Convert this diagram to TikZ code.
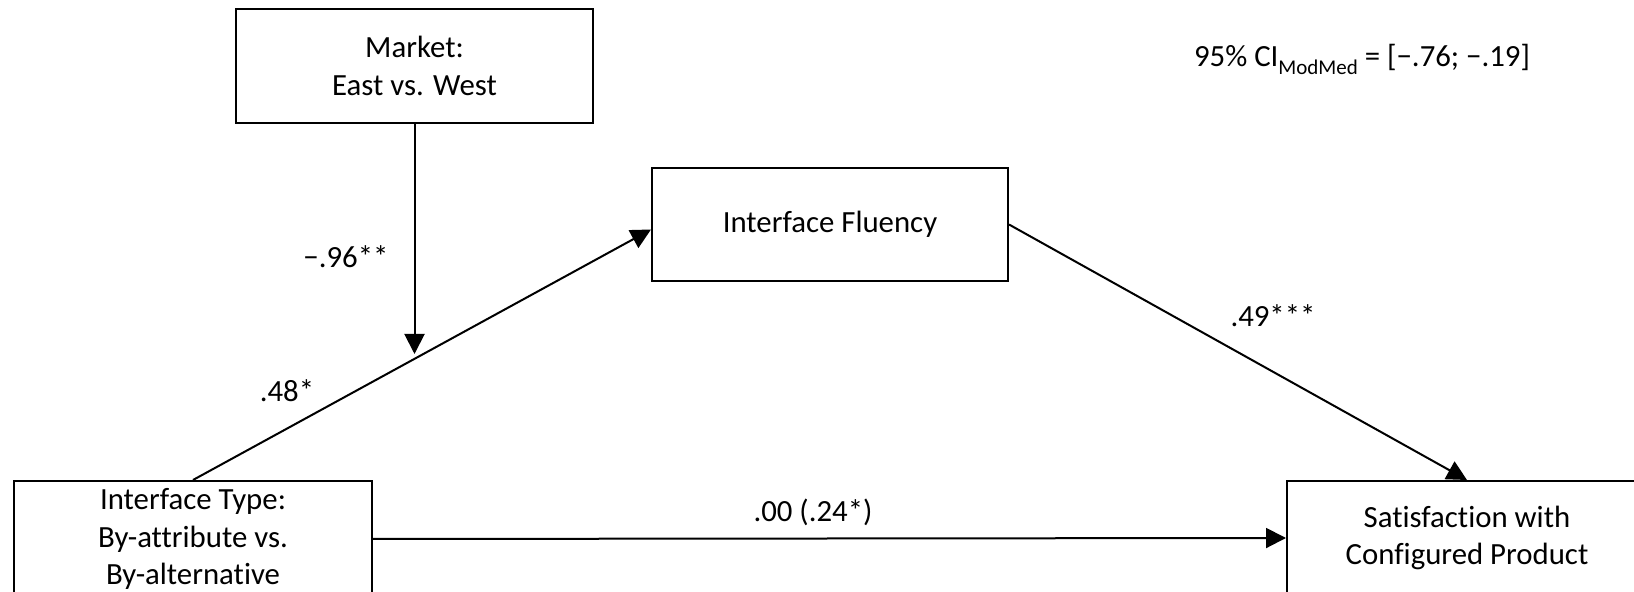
\documentclass[tikz,border=0pt]{standalone}
\usepackage{fontspec}
\setmainfont[Ligatures=NoCommon]{Carlito}
\usetikzlibrary{arrows.meta,calc}
\begin{document}
\begin{tikzpicture}[x=0.5pt,y=-0.5pt,
  box/.style={draw,line width=1pt,align=center,inner sep=0pt,
    font=\fontsize{15.4}{18.6}\selectfont},
  lab/.style={font=\fontsize{15.4}{18.6}\selectfont,inner sep=0pt},
  arr/.style={line width=1pt,-{Triangle[length=10pt,width=10pt]}},
  con/.style={line width=1pt}]
\useasboundingbox (0,0) rectangle (1634,592);
\clip (0,0) rectangle (1634,592);
\node[box,minimum width=178.5pt,minimum height=57pt] (mkt) at (414.5,66) {Market:\\East vs. West};
\node[box,minimum width=178pt,minimum height=56.5pt] (flu) at (830,224.5) {Interface Fluency};
\node[box,minimum width=179pt,minimum height=58pt] (itype) at (193,539) {Interface Type:\\By-attribute vs.\\By-alternative};
\node[box,minimum width=180pt,minimum height=57pt] (sat) at (1467,538) {Satisfaction with\\Configured Product};
\coordinate (fend) at ($(flu.west)+(0,5)$);
\coordinate (mod) at (414.5,354);
\draw[arr] (itype.north) -- (fend);
\draw[arr] (flu.east) -- (sat.north);
\draw[arr] (itype.east) -- (sat.west);
\draw[arr] (mkt.south) -- (mkt.south |- mod);
\node[lab] (l1) at (346,257) {−.96**};
\node[lab] (l2) at (287,391) {.48*};
\node[lab] (l3) at (1273,316) {.49***};
\node[lab] (l4) at (813,512) {.00 (.24*)};
\node[lab] (ci) at (1362,59) {95\% CI\raisebox{-4pt}{\fontsize{10.5}{12}\selectfont ModMed} = [−.76; −.19]};
\end{tikzpicture}
\end{document}
